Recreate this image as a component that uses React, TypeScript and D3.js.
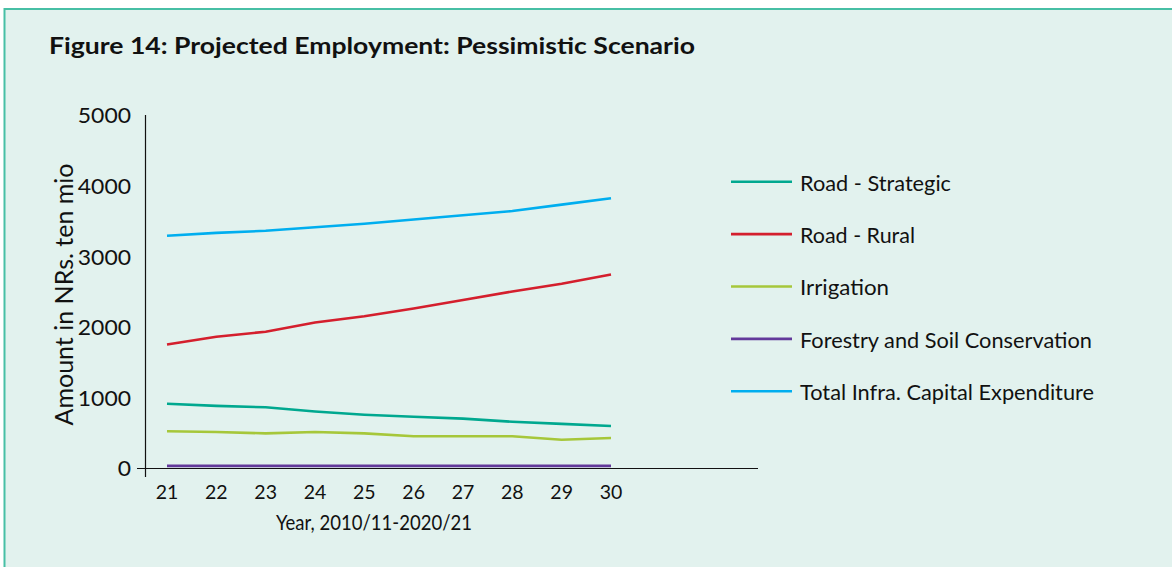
import React from "react";
import * as d3 from "d3";

const years = ["21", "22", "23", "24", "25", "26", "27", "28", "29", "30"];
const yTicks = [0, 1000, 2000, 3000, 4000, 5000];
const roadStrategic = [910, 880, 860, 800, 755, 725, 700, 655, 625, 595];
const roadRural = [1750, 1860, 1930, 2060, 2150, 2260, 2380, 2500, 2610, 2740];
const irrigation = [520, 510, 490, 510, 490, 450, 450, 450, 400, 425];
const forestry = [30, 30, 30, 30, 30, 30, 30, 30, 30, 30];
const totalInfra = [3290, 3330, 3360, 3410, 3460, 3520, 3580, 3640, 3730, 3820];

const seriesNames = [
  "Road - Strategic",
  "Road - Rural",
  "Irrigation",
  "Forestry and Soil Conservation",
  "Total Infra. Capital Expenditure",
];
const seriesValues = [roadStrategic, roadRural, irrigation, forestry, totalInfra];
const seriesColors = ["#00a88f", "#d41f2d", "#a6c73a", "#62399a", "#00aeef"];
const legendWidths = [151, 115, 89, 292, 294];

const W = 1172;
const H = 567;
const FONT = "Lato, 'Open Sans', sans-serif";

export default function App() {
  const x = d3.scalePoint<string>().domain(years).range([167, 611]);
  const y = d3.scaleLinear().domain([0, 5000]).range([468, 115]);
  const line = d3
    .line<number>()
    .x((_, i) => x(years[i]) as number)
    .y((d) => y(d));

  return (
    <svg
      width={W}
      height={H}
      style={{ position: "absolute", left: 0, top: 0, display: "block" }}
      fontFamily={FONT}
    >
      <rect x={0} y={0} width={W} height={H} fill="#ffffff" />
      <rect x={4.5} y={9} width={W + 10} height={H + 10} fill="#e2f2ee" stroke="#47bfa5" strokeWidth={2} />
      <text
        x={49}
        y={53.5}
        fontSize={22.5}
        fontWeight={700}
        fill="#111"
        textLength={646}
        lengthAdjust="spacingAndGlyphs"
      >
        Figure 14: Projected Employment: Pessimistic Scenario
      </text>

      {/* axes */}
      <line x1={145.5} x2={145.5} y1={115} y2={477} stroke="#111" strokeWidth={1.2} />
      <line x1={137} x2={758} y1={468.5} y2={468.5} stroke="#111" strokeWidth={1.2} />

      {yTicks.map((t) => {
        const s = String(t);
        return (
          <text
            key={t}
            x={131}
            y={y(t) + 8.3}
            textAnchor="end"
            fontSize={20.5}
            fill="#111"
            textLength={s.length * 13.3}
            lengthAdjust="spacingAndGlyphs"
          >
            {s}
          </text>
        );
      })}
      {years.map((yr) => (
        <text key={yr} x={x(yr) as number} y={498.5} textAnchor="middle" fontSize={19.5} fill="#111">
          {yr}
        </text>
      ))}
      <text
        transform={`translate(72.5,${y(2500) + 3}) rotate(-90)`}
        textAnchor="middle"
        fontSize={25.5}
        fill="#111"
        textLength={262}
        lengthAdjust="spacingAndGlyphs"
      >
        Amount in NRs. ten mio
      </text>
      <text
        x={374}
        y={530}
        textAnchor="middle"
        fontSize={21}
        fill="#111"
        textLength={196}
        lengthAdjust="spacingAndGlyphs"
      >
        Year, 2010/11-2020/21
      </text>

      {seriesValues.map((vals, i) => (
        <path key={i} d={line(vals) as string} fill="none" stroke={seriesColors[i]} strokeWidth={2.6} />
      ))}

      {seriesNames.map((name, i) => {
        const ly = 181.7 + i * 52.4;
        return (
          <g key={name}>
            <line x1={731} x2={792} y1={ly} y2={ly} stroke={seriesColors[i]} strokeWidth={2.6} />
            <text
              x={800}
              y={ly + 8.8}
              fontSize={21}
              fill="#111"
              textLength={legendWidths[i]}
              lengthAdjust="spacingAndGlyphs"
            >
              {name}
            </text>
          </g>
        );
      })}
    </svg>
  );
}
